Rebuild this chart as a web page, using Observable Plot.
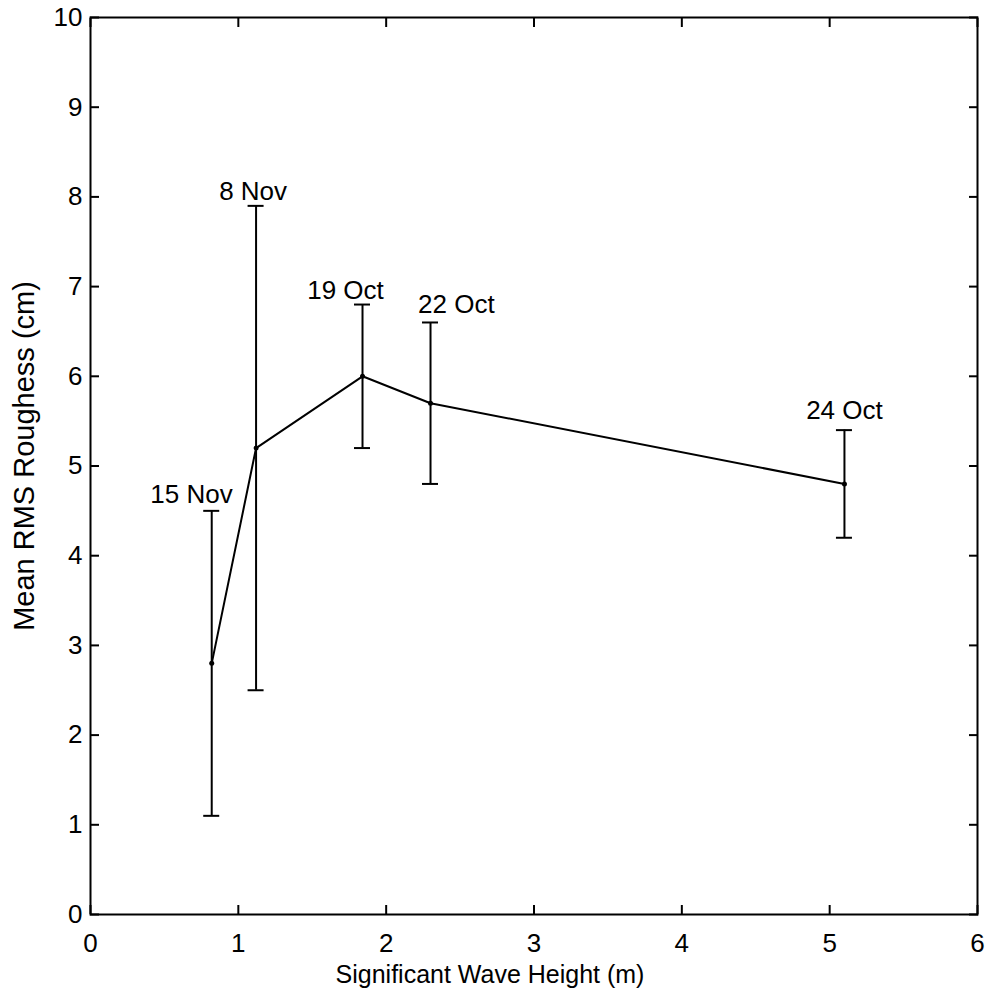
<!DOCTYPE html>
<html>
<head>
<meta charset="utf-8">
<script src="https://cdn.jsdelivr.net/npm/d3@7"></script>
<script src="https://cdn.jsdelivr.net/npm/@observablehq/plot@0.6"></script>
<style>
  html, body { margin: 0; padding: 0; background: #fff; }
  #chart svg { display: block; }
</style>
</head>
<body>
<div id="chart"></div>
<script>
// Data
const dates = ["15 Nov", "8 Nov", "19 Oct", "22 Oct", "24 Oct"];
const waveHeight = [0.82, 1.12, 1.84, 2.30, 5.10];
const meanRoughness = [2.8, 5.2, 6.0, 5.7, 4.8];
const lowerBound = [1.1, 2.5, 5.2, 4.8, 4.2];
const upperBound = [4.5, 7.9, 6.8, 6.6, 5.4];
// annotation anchor positions (data units)
const labelX = [0.683, 1.10, 1.725, 2.475, 5.10];
const labelY = [4.68, 8.06, 6.96, 6.80, 5.62];
const xTicks = [0, 1, 2, 3, 4, 5, 6];
const yTicks = [0, 1, 2, 3, 4, 5, 6, 7, 8, 9, 10];
const xTitle = "Significant Wave Height (m)";
const yTitle = "Mean RMS Roughess (cm)";

const data = dates.map((d, i) => ({
  date: d, x: waveHeight[i], y: meanRoughness[i],
  lo: lowerBound[i], hi: upperBound[i], lx: labelX[i], ly: labelY[i]
}));

const chart = Plot.plot({
  width: 989,
  height: 999,
  marginLeft: 90,
  marginRight: 12,
  marginTop: 17,
  marginBottom: 85,
  style: { fontFamily: "'Liberation Sans', Arial, Helvetica, sans-serif", fontSize: "26px", color: "#000", background: "#fff" },
  x: { domain: [0, 6] },
  y: { domain: [0, 10] },
  marks: [
    Plot.frame({ stroke: "#000", strokeWidth: 2 }),
    // inward ticks on all four sides
    Plot.axisX(xTicks, { anchor: "bottom", tickSize: -9, text: null, strokeWidth: 2, label: null }),
    Plot.axisX(xTicks, { anchor: "top", tickSize: -9, text: null, strokeWidth: 2, label: null }),
    Plot.axisY(yTicks, { anchor: "left", tickSize: -9, text: null, strokeWidth: 2, label: null }),
    Plot.axisY(yTicks, { anchor: "right", tickSize: -9, text: null, strokeWidth: 2, label: null }),
    // tick labels
    Plot.axisX(xTicks, { anchor: "bottom", tickSize: 0, tickPadding: 19, tickFormat: "d", label: null, fontSize: 26 }),
    Plot.axisY(yTicks, { anchor: "left", tickSize: 0, tickPadding: 8, tickFormat: "d", label: null, fontSize: 26 }),
    // axis titles
    Plot.text([xTitle], { frameAnchor: "bottom", dx: -44, dy: 60, textAnchor: "middle", lineAnchor: "middle", text: d => d, fontSize: 25, fill: "#000" }),
    Plot.text([yTitle], { frameAnchor: "left", dx: -66, dy: -10, rotate: -90, textAnchor: "middle", lineAnchor: "middle", text: d => d, fontSize: 29, fill: "#000" }),
    // error bars
    Plot.ruleX(data, { x: "x", y1: "lo", y2: "hi", stroke: "#000", strokeWidth: 2 }),
    Plot.ruleY(data, { y: "hi", x1: "x", x2: "x", insetLeft: -8, insetRight: -8, stroke: "#000", strokeWidth: 2 }),
    Plot.ruleY(data, { y: "lo", x1: "x", x2: "x", insetLeft: -8, insetRight: -8, stroke: "#000", strokeWidth: 2 }),
    // mean line
    Plot.line(data, { x: "x", y: "y", sort: "x", stroke: "#000", strokeWidth: 2 }),
    Plot.dot(data, { x: "x", y: "y", r: 2.5, fill: "#000" }),
    // date labels
    Plot.text(data, { x: "lx", y: "ly", text: "date", fontSize: 26, fill: "#000" })
  ]
});
document.getElementById("chart").appendChild(chart);
</script>
</body>
</html>
